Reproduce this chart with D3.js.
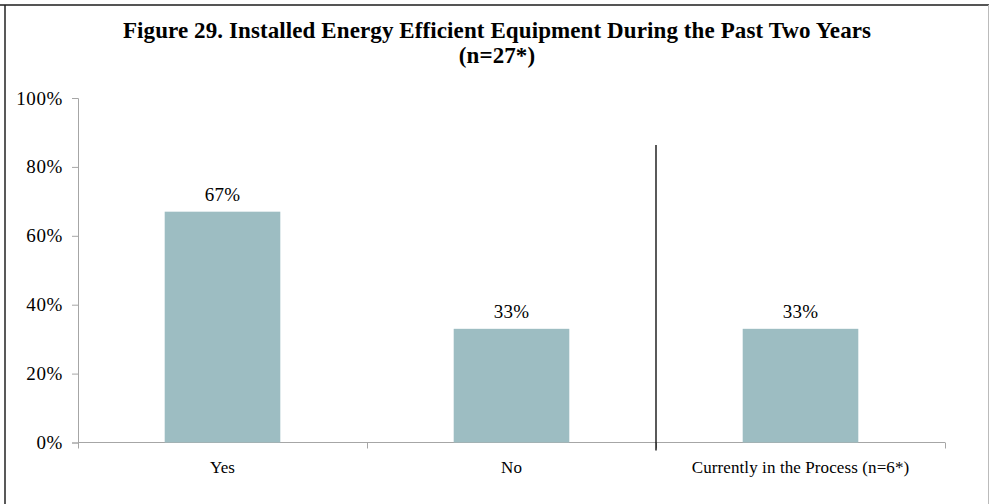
<!DOCTYPE html>
<html>
<head>
<meta charset="utf-8">
<script src="https://cdn.jsdelivr.net/npm/d3@7"></script>
<style>
  html, body { margin: 0; padding: 0; background: #fff; }
  svg { display: block; }
  text { font-family: "Liberation Serif", "Times New Roman", serif; fill: #000; }
</style>
</head>
<body>
<svg id="chart" width="989" height="504"></svg>
<script>
// Share of respondents by answer
const categories = ["Yes", "No", "Currently in the Process (n=6*)"];
const values = [0.67, 0.33, 0.33];
const yTicks = [0, 0.2, 0.4, 0.6, 0.8, 1.0];
const titleLines = ["Figure 29. Installed Energy Efficient Equipment During the Past Two Years", "(n=27*)"];

const W = 989, H = 504;
const margin = { left: 78, right: 44, top: 98, bottom: 61 };
const svg = d3.select("#chart");

// Outer frame
svg.append("line").attr("x1", 0).attr("x2", W).attr("y1", 5).attr("y2", 5)
  .attr("stroke", "#555").attr("stroke-width", 2);
svg.append("line").attr("x1", 5).attr("x2", 5).attr("y1", 5).attr("y2", H)
  .attr("stroke", "#222").attr("stroke-width", 1.5);
svg.append("line").attr("x1", 988.5).attr("x2", 988.5).attr("y1", 5).attr("y2", H)
  .attr("stroke", "#bbb").attr("stroke-width", 1);

// Title
const title = svg.append("text").attr("text-anchor", "middle")
  .style("font-size", "23px").style("font-weight", "bold").style("letter-spacing", "0.1px");
titleLines.forEach((t, i) => {
  title.append("tspan").attr("x", 497).attr("y", 38 + i * 25).text(t);
});

const x = d3.scaleBand().domain(categories)
  .range([margin.left, W - margin.right])
  .paddingInner(0.6).paddingOuter(0.3);
const y = d3.scaleLinear().domain([0, 1]).range([H - margin.bottom - 0.5, margin.top]);

const axisColor = "#a6a6a6";

// Y axis
const yAxis = svg.append("g").attr("transform", `translate(${margin.left},0)`)
  .call(d3.axisLeft(y).tickValues(yTicks).tickFormat(d3.format(".0%")).tickSizeOuter(0).tickSize(6).tickPadding(9));
yAxis.select(".domain").attr("stroke", axisColor);
yAxis.selectAll(".tick line").attr("stroke", axisColor);
yAxis.selectAll(".tick text").style("font-size", "19px").style("letter-spacing", "0.6px")
  .attr("fill", "#000").style("font-family", "'Liberation Serif', serif");

// X axis with boundary ticks between categories
const x0 = margin.left, x1 = W - margin.right;
const bounds = d3.range(categories.length + 1).map(i => x0 + i * (x1 - x0) / categories.length);
const baseY = y(0);
svg.append("line").attr("x1", x0).attr("x2", x1).attr("y1", baseY).attr("y2", baseY)
  .attr("stroke", axisColor);
svg.selectAll(".xtick").data(bounds).join("line")
  .attr("x1", d => d + 0.5).attr("x2", d => d + 0.5)
  .attr("y1", baseY).attr("y2", baseY + 6).attr("stroke", axisColor);
svg.selectAll(".xlabel").data(categories).join("text")
  .attr("x", d => x(d) + x.bandwidth() / 2).attr("y", 473)
  .attr("text-anchor", "middle").style("font-size", "17px")
  .style("letter-spacing", "0.1px").text(d => d);

// Bars
svg.selectAll(".bar").data(values).join("rect")
  .attr("x", (d, i) => x(categories[i]))
  .attr("width", x.bandwidth())
  .attr("y", d => y(d))
  .attr("height", d => y(0) - y(d))
  .attr("fill", "#9dbdc2");

// Value labels
svg.selectAll(".vlabel").data(values).join("text")
  .attr("x", (d, i) => x(categories[i]) + x.bandwidth() / 2)
  .attr("y", d => y(d) - 11)
  .attr("text-anchor", "middle").style("font-size", "19px").style("letter-spacing", "0.3px")
  .text(d => d3.format(".0%")(d));

// Divider separating the sub-question
svg.append("line")
  .attr("x1", bounds[2]).attr("x2", bounds[2])
  .attr("y1", 145).attr("y2", baseY + 8)
  .attr("stroke", "#000").attr("stroke-width", 1.3);
</script>
</body>
</html>
